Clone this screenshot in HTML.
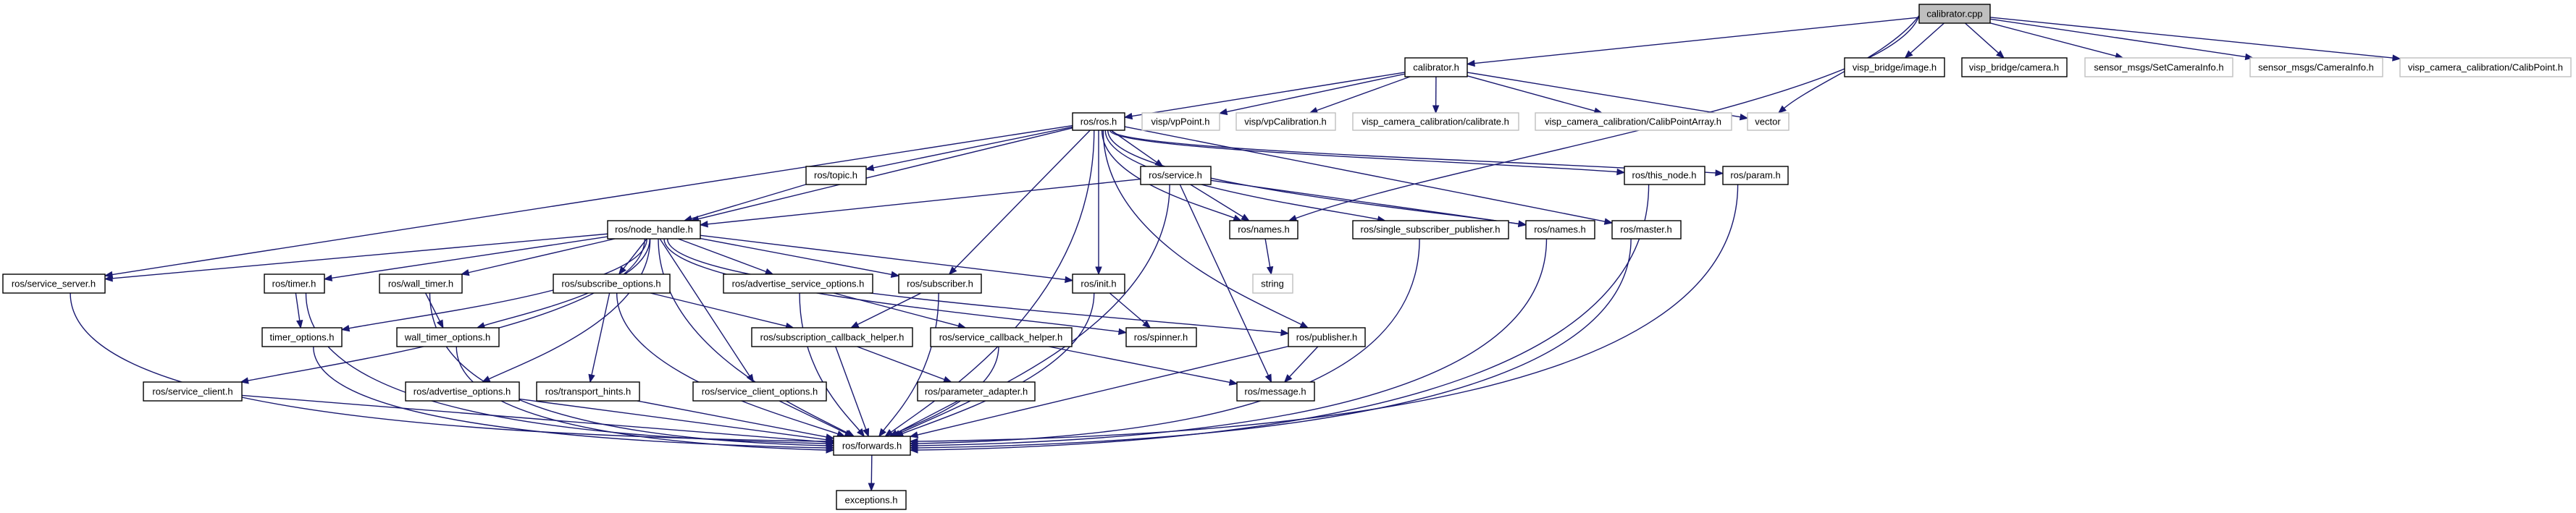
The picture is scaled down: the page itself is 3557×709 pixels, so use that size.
<!DOCTYPE html>
<html><head><meta charset="utf-8"><style>
html,body{margin:0;padding:0;background:#fff;}
svg{display:block;}
text{font-family:"Liberation Sans",sans-serif;font-size:13px;text-anchor:middle;dominant-baseline:central;fill:#000;}
</style></head><body>
<svg id="g" width="3557" height="709" viewBox="0 0 3557 709" xmlns="http://www.w3.org/2000/svg">
<g id="edges" stroke="#191970" stroke-width="1.4" fill="none"></g>
<g id="arrows" fill="#191970" stroke="#191970"></g>
<g id="nodes">
<rect x="2650" y="6" width="98" height="26" fill="#bfbfbf" stroke="#000" stroke-width="1.4"/><text x="2699" y="19">calibrator.cpp</text>
<rect x="1940" y="80" width="86" height="26" fill="#fff" stroke="#000" stroke-width="1.4"/><text x="1983" y="93">calibrator.h</text>
<rect x="2547" y="80" width="138" height="26" fill="#fff" stroke="#000" stroke-width="1.4"/><text x="2616" y="93">visp_bridge/image.h</text>
<rect x="2709" y="80" width="145" height="26" fill="#fff" stroke="#000" stroke-width="1.4"/><text x="2781" y="93">visp_bridge/camera.h</text>
<rect x="2879" y="80" width="204" height="26" fill="#fff" stroke="#bfbfbf" stroke-width="1.4"/><text x="2981" y="93">sensor_msgs/SetCameraInfo.h</text>
<rect x="3107" y="80" width="183" height="26" fill="#fff" stroke="#bfbfbf" stroke-width="1.4"/><text x="3198" y="93">sensor_msgs/CameraInfo.h</text>
<rect x="3314" y="80" width="236" height="26" fill="#fff" stroke="#bfbfbf" stroke-width="1.4"/><text x="3432" y="93">visp_camera_calibration/CalibPoint.h</text>
<rect x="1481" y="156" width="72" height="24" fill="#fff" stroke="#000" stroke-width="1.4"/><text x="1517" y="168">ros/ros.h</text>
<rect x="1577" y="156" width="107" height="24" fill="#fff" stroke="#bfbfbf" stroke-width="1.4"/><text x="1630" y="168">visp/vpPoint.h</text>
<rect x="1707" y="156" width="137" height="24" fill="#fff" stroke="#bfbfbf" stroke-width="1.4"/><text x="1775" y="168">visp/vpCalibration.h</text>
<rect x="1868" y="156" width="229" height="24" fill="#fff" stroke="#bfbfbf" stroke-width="1.4"/><text x="1982" y="168">visp_camera_calibration/calibrate.h</text>
<rect x="2120" y="156" width="271" height="24" fill="#fff" stroke="#bfbfbf" stroke-width="1.4"/><text x="2255" y="168">visp_camera_calibration/CalibPointArray.h</text>
<rect x="2413" y="156" width="57" height="24" fill="#fff" stroke="#bfbfbf" stroke-width="1.4"/><text x="2441" y="168">vector</text>
<rect x="1113" y="230" width="83" height="25" fill="#fff" stroke="#000" stroke-width="1.4"/><text x="1154" y="242">ros/topic.h</text>
<rect x="1575" y="230" width="97" height="25" fill="#fff" stroke="#000" stroke-width="1.4"/><text x="1623" y="242">ros/service.h</text>
<rect x="2243" y="230" width="111" height="25" fill="#fff" stroke="#000" stroke-width="1.4"/><text x="2298" y="242">ros/this_node.h</text>
<rect x="2379" y="230" width="90" height="25" fill="#fff" stroke="#000" stroke-width="1.4"/><text x="2424" y="242">ros/param.h</text>
<rect x="839" y="305" width="128" height="25" fill="#fff" stroke="#000" stroke-width="1.4"/><text x="903" y="317">ros/node_handle.h</text>
<rect x="1698" y="305" width="94" height="25" fill="#fff" stroke="#000" stroke-width="1.4"/><text x="1745" y="317">ros/names.h</text>
<rect x="1868" y="305" width="215" height="25" fill="#fff" stroke="#000" stroke-width="1.4"/><text x="1975" y="317">ros/single_subscriber_publisher.h</text>
<rect x="2107" y="305" width="95" height="25" fill="#fff" stroke="#000" stroke-width="1.4"/><text x="2154" y="317">ros/names.h</text>
<rect x="2226" y="305" width="95" height="25" fill="#fff" stroke="#000" stroke-width="1.4"/><text x="2273" y="317">ros/master.h</text>
<rect x="4" y="379" width="141" height="26" fill="#fff" stroke="#000" stroke-width="1.4"/><text x="74" y="392">ros/service_server.h</text>
<rect x="365" y="379" width="83" height="26" fill="#fff" stroke="#000" stroke-width="1.4"/><text x="406" y="392">ros/timer.h</text>
<rect x="524" y="379" width="114" height="26" fill="#fff" stroke="#000" stroke-width="1.4"/><text x="581" y="392">ros/wall_timer.h</text>
<rect x="764" y="379" width="161" height="26" fill="#fff" stroke="#000" stroke-width="1.4"/><text x="844" y="392">ros/subscribe_options.h</text>
<rect x="999" y="379" width="206" height="26" fill="#fff" stroke="#000" stroke-width="1.4"/><text x="1102" y="392">ros/advertise_service_options.h</text>
<rect x="1241" y="379" width="114" height="26" fill="#fff" stroke="#000" stroke-width="1.4"/><text x="1298" y="392">ros/subscriber.h</text>
<rect x="1481" y="379" width="72" height="26" fill="#fff" stroke="#000" stroke-width="1.4"/><text x="1517" y="392">ros/init.h</text>
<rect x="1730" y="379" width="55" height="26" fill="#fff" stroke="#bfbfbf" stroke-width="1.4"/><text x="1757" y="392">string</text>
<rect x="362" y="453" width="110" height="26" fill="#fff" stroke="#000" stroke-width="1.4"/><text x="417" y="466">timer_options.h</text>
<rect x="548" y="453" width="141" height="26" fill="#fff" stroke="#000" stroke-width="1.4"/><text x="618" y="466">wall_timer_options.h</text>
<rect x="1038" y="453" width="222" height="26" fill="#fff" stroke="#000" stroke-width="1.4"/><text x="1149" y="466">ros/subscription_callback_helper.h</text>
<rect x="1285" y="453" width="195" height="26" fill="#fff" stroke="#000" stroke-width="1.4"/><text x="1382" y="466">ros/service_callback_helper.h</text>
<rect x="1555" y="453" width="97" height="26" fill="#fff" stroke="#000" stroke-width="1.4"/><text x="1603" y="466">ros/spinner.h</text>
<rect x="1779" y="453" width="106" height="26" fill="#fff" stroke="#000" stroke-width="1.4"/><text x="1832" y="466">ros/publisher.h</text>
<rect x="198" y="528" width="136" height="26" fill="#fff" stroke="#000" stroke-width="1.4"/><text x="266" y="541">ros/service_client.h</text>
<rect x="560" y="528" width="157" height="26" fill="#fff" stroke="#000" stroke-width="1.4"/><text x="638" y="541">ros/advertise_options.h</text>
<rect x="741" y="528" width="142" height="26" fill="#fff" stroke="#000" stroke-width="1.4"/><text x="812" y="541">ros/transport_hints.h</text>
<rect x="957" y="528" width="184" height="26" fill="#fff" stroke="#000" stroke-width="1.4"/><text x="1049" y="541">ros/service_client_options.h</text>
<rect x="1267" y="528" width="162" height="26" fill="#fff" stroke="#000" stroke-width="1.4"/><text x="1348" y="541">ros/parameter_adapter.h</text>
<rect x="1708" y="528" width="107" height="26" fill="#fff" stroke="#000" stroke-width="1.4"/><text x="1761" y="541">ros/message.h</text>
<rect x="1151" y="603" width="106" height="26" fill="#fff" stroke="#000" stroke-width="1.4"/><text x="1204" y="616">ros/forwards.h</text>
<rect x="1155" y="678" width="96" height="26" fill="#fff" stroke="#000" stroke-width="1.4"/><text x="1203" y="691">exceptions.h</text>
</g>
</svg>
<script>
var N={
cpp:[2650,6,98,26],cal:[1940,80,86,26],img:[2547,80,138,26],cam:[2709,80,145,26],sci:[2879,80,204,26],ci:[3107,80,183,26],cp:[3314,80,236,26],
ros:[1481,156,72,24],vpp:[1577,156,107,24],vpc:[1707,156,137,24],clb:[1868,156,229,24],cpa:[2120,156,271,24],vec:[2413,156,57,24],
top:[1113,230,83,25],srv:[1575,230,97,25],tn:[2243,230,111,25],par:[2379,230,90,25],
nh:[839,305,128,25],n1:[1698,305,94,25],ssp:[1868,305,215,25],n2:[2107,305,95,25],mas:[2226,305,95,25],
ss:[4,379,141,26],tim:[365,379,83,26],wt:[524,379,114,26],so:[764,379,161,26],aso:[999,379,206,26],sub:[1241,379,114,26],ini:[1481,379,72,26],str:[1730,379,55,26],
to:[362,453,110,26],wto:[548,453,141,26],sch:[1038,453,222,26],svch:[1285,453,195,26],spn:[1555,453,97,26],pub:[1779,453,106,26],
sc:[198,528,136,26],ao:[560,528,157,26],th:[741,528,142,26],sco:[957,528,184,26],pa:[1267,528,162,26],msg:[1708,528,107,26],
fw:[1151,603,106,26],exc:[1155,678,96,26]};
var E=[
["cpp","cal"],["cpp","img"],["cpp","cam"],["cpp","sci"],["cpp","ci"],["cpp","cp"],["cpp","vec",2],["cpp","n1",2],
["cal","ros"],["cal","vpp"],["cal","vpc"],["cal","clb"],["cal","cpa"],["cal","vec"],
["ros","nh"],["ros","top"],["ros","srv"],["ros","ss"],["ros","sub"],["ros","ini"],["ros","n1",1],["ros","pub",1],["ros","n2",1],["ros","ssp",1],["ros","mas"],["ros","tn",1],["ros","par",1],["ros","fw",1],
["top","nh"],["srv","nh"],["srv","n1"],["srv","n2"],["srv","msg"],["srv","fw",1],
["nh","ss"],["nh","tim"],["nh","wt"],["nh","to",1],["nh","wto",1],["nh","sc",1],["nh","ao",1],["nh","so"],["nh","sco"],["nh","aso"],["nh","sub"],["nh","ini"],["nh","spn",1],["nh","pub",1],["nh","fw",1],
["so","th"],["so","sch"],["so","fw",1],["aso","svch"],["aso","fw",1],["sub","sch"],["sub","fw",1],["ini","spn"],["ini","fw",1],
["sch","pa"],["sch","fw"],["svch","msg"],["svch","fw",1],["pub","msg"],["pub","fw"],["pa","fw"],
["tim","to"],["tim","fw",1],["wt","wto"],["wt","fw",1],["to","fw",1],["wto","fw",1],["ss","fw",1],["sc","fw"],["ao","fw"],["th","fw"],["sco","fw"],
["ssp","fw",1],["n2","fw",1],["mas","fw",1],["tn","fw",1],["par","fw",1],["n1","str"],["fw","exc"]];
function c(b){return [b[0]+b[2]/2,b[1]+b[3]/2];}
function clip(b,dx,dy){var hw=b[2]/2,hh=b[3]/2;var t=Math.min(dx?hw/Math.abs(dx):1e9,dy?hh/Math.abs(dy):1e9);var m=c(b);return [m[0]+dx*t,m[1]+dy*t];}
var eg=document.getElementById('edges'),ag=document.getElementById('arrows'),ns='http://www.w3.org/2000/svg';
var sideCount={};
E.forEach(function(e){
 var a=N[e[0]],b=N[e[1]],ca=c(a),cb=c(b);
 var s,t,ax,ay,c1,c2;
 if(e[2]){
  if(e[2]==2){ s=[a[0],a[1]+a[3]*0.6]; }
  else s=[ca[0]+(cb[0]-ca[0])*0.02,a[1]+a[3]];
  var hx=Math.abs(cb[0]-s[0]),vy=b[1]-s[1];
  if(e[1]=="fw" && hx>2.2*vy && hx>300){
   var right=cb[0]<s[0];
   var k=(right?'r':'l');sideCount[k]=(sideCount[k]||0)+1;
   var off=(sideCount[k]%5-2)*3;
   t=[right?b[0]+b[2]:b[0], cb[1]+off];
   ax=right?-1:1;ay=0;
   c1=[s[0],s[1]+vy*0.8];
   c2=[t[0]-ax*hx*0.5,t[1]-8];
  } else if(e[2]==2){
   c1=[s[0]-40,s[1]+vy*0.4];
   var c2x=cb[0]+(s[0]-cb[0])*0.3, c2y=b[1]-vy*0.3;
   var dx=cb[0]-c2x,dy=cb[1]-c2y;
   t=clip(b,-dx,-dy);
   var L=Math.hypot(dx,dy)||1;ax=dx/L;ay=dy/L;
   c2=[c2x,c2y];
  } else {
   c1=[s[0],s[1]+vy*0.55];
   var c2x=cb[0]+(s[0]-cb[0])*0.35, c2y=b[1]-vy*0.15;
   var dx=cb[0]-c2x,dy=cb[1]-c2y;
   t=clip(b,-dx,-dy);
   var L=Math.hypot(dx,dy)||1;ax=dx/L;ay=dy/L;
   c2=[c2x,c2y];
  }
  var tb=[t[0]-ax*10,t[1]-ay*10];
  var p=document.createElementNS(ns,'path');
  p.setAttribute('d','M'+s[0]+','+s[1]+' C'+c1[0]+','+c1[1]+' '+c2[0]+','+c2[1]+' '+tb[0]+','+tb[1]);
  eg.appendChild(p);
 } else {
  var dx=cb[0]-ca[0],dy=cb[1]-ca[1];
  s=clip(a,dx,dy);t=clip(b,-dx,-dy);
  var L=Math.hypot(dx,dy);ax=dx/L;ay=dy/L;
  var tb=[t[0]-ax*10,t[1]-ay*10];
  var l=document.createElementNS(ns,'path');
  l.setAttribute('d','M'+s[0]+','+s[1]+' L'+tb[0]+','+tb[1]);eg.appendChild(l);
 }
 var bx=t[0]-ax*10,by=t[1]-ay*10,px=-ay*4,py=ax*4;
 var g=document.createElementNS(ns,'polygon');
 g.setAttribute('points',t[0]+','+t[1]+' '+(bx+px)+','+(by+py)+' '+(bx-px)+','+(by-py));
 ag.appendChild(g);
});
</script>
</body></html>
